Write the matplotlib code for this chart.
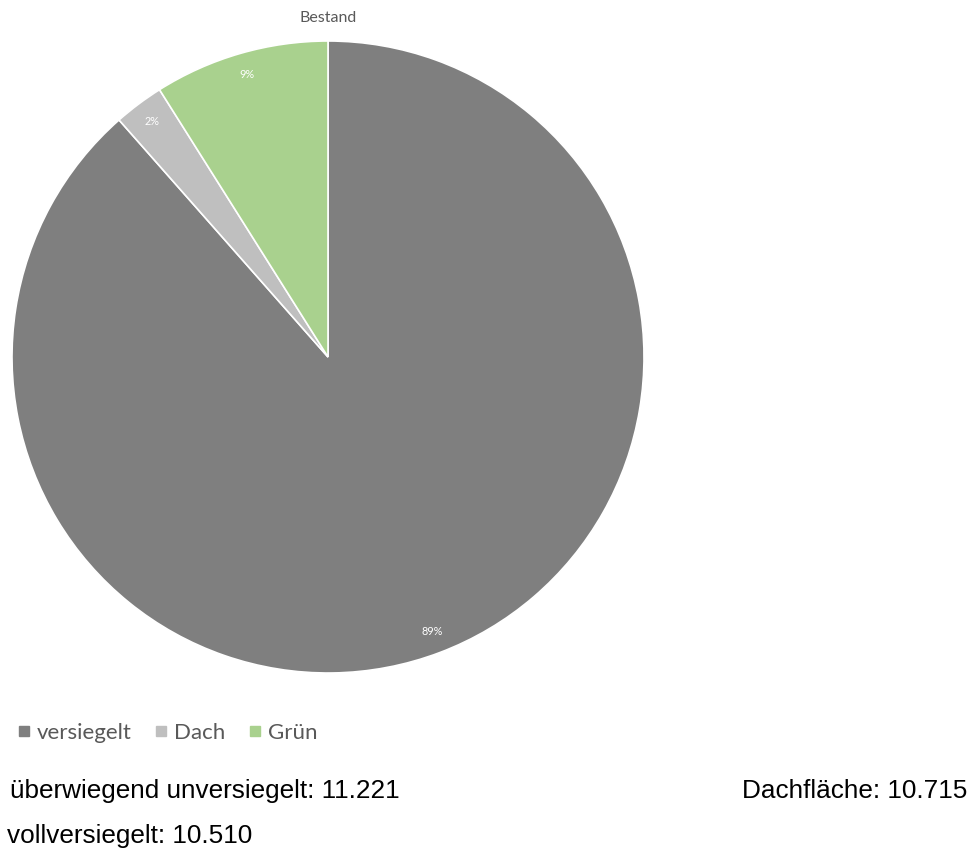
import numpy as np
import matplotlib.pyplot as plt
from matplotlib.lines import Line2D

# Daten
kategorien = ['versiegelt', 'Dach', 'Grün']
anteile = [88.5, 2.55, 8.95]
prozent_labels = ['89%', '2%', '9%']
farben = ['#7f7f7f', '#bfbfbf', '#a9d18e']

zeile_1_links = 'überwiegend unversiegelt: 11.221'
zeile_1_rechts = 'Dachfläche: 10.715'
zeile_2_links = 'vollversiegelt: 10.510'

plt.rcParams['font.family'] = ['Lato', 'DejaVu Sans']

fig = plt.figure(figsize=(9.74, 8.5), dpi=100, facecolor='white')
ax = fig.add_axes([12 / 974, 177 / 850, 632 / 974, 632 / 850])

wedges, _ = ax.pie(anteile, colors=farben, startangle=90, counterclock=False,
                   wedgeprops=dict(edgecolor='white', linewidth=1.2))

# Prozentwerte in den Segmenten
for w, lab in zip(wedges, prozent_labels):
    mitte = np.deg2rad((w.theta1 + w.theta2) / 2)
    r = 0.93
    ax.text(r * np.cos(mitte), r * np.sin(mitte), lab, ha='center', va='center',
            color='white', fontsize=7.8)
ax.set_xlim(-1, 1)
ax.set_ylim(-1, 1)
ax.set_aspect('equal')

fig.text(328 / 974, 1 - 18 / 850, 'Bestand', ha='center', va='center',
         color='#595959', fontsize=11.5)

# Legende
handles = [Line2D([], [], marker='s', linestyle='none', color=c, markersize=6.5)
           for c in farben]
fig.legend(handles, kategorien, loc='center left',
           bbox_to_anchor=(15 / 974, 1 - 733 / 850), ncol=3, frameon=False,
           handlelength=0.8, handletextpad=0.18, columnspacing=0.93,
           fontsize=16, labelcolor='#595959', borderaxespad=0, borderpad=0)

# Flächenangaben unten
schrift = ['Liberation Sans', 'DejaVu Sans']
fig.text(10 / 974, 1 - 798 / 850, zeile_1_links, ha='left', va='baseline',
         fontsize=18.8, family=schrift, color='black')
fig.text(967 / 974, 1 - 798 / 850, zeile_1_rechts, ha='right', va='baseline',
         fontsize=18.8, family=schrift, color='black')
fig.text(7 / 974, 1 - 843 / 850, zeile_2_links, ha='left', va='baseline',
         fontsize=18.8, family=schrift, color='black')

fig.savefig('out.png', dpi=100, facecolor='white')
